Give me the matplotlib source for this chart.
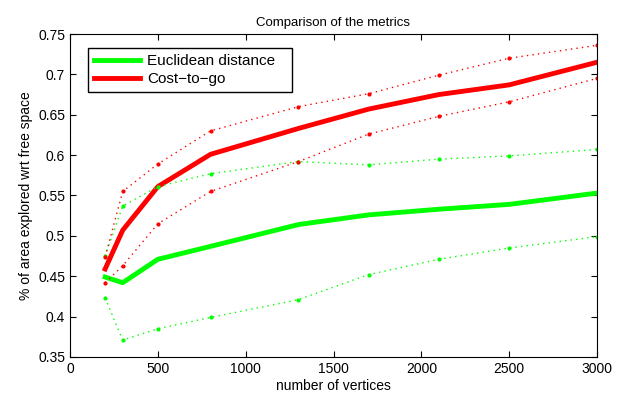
import numpy as np
import matplotlib.pyplot as plt

plt.rcParams['font.family'] = ['Liberation Sans', 'DejaVu Sans']

# number of vertices
vertices = [200, 300, 500, 800, 1300, 1700, 2100, 2500, 3000]

# euclidean distance: mean and spread
eucl_mean = [0.449, 0.442, 0.471, 0.487, 0.514, 0.526, 0.533, 0.539, 0.553]
eucl_upper = [0.475, 0.537, 0.561, 0.577, 0.592, 0.588, 0.595, 0.599, 0.607]
eucl_lower = [0.423, 0.371, 0.385, 0.399, 0.421, 0.452, 0.471, 0.485, 0.499]

# cost-to-go: mean and spread
ctg_mean = [0.459, 0.507, 0.561, 0.601, 0.633, 0.657, 0.675, 0.687, 0.715]
ctg_upper = [0.474, 0.555, 0.589, 0.630, 0.660, 0.676, 0.699, 0.720, 0.736]
ctg_lower = [0.442, 0.463, 0.515, 0.555, 0.592, 0.626, 0.648, 0.666, 0.695]

green = (0, 1, 0)
red = (1, 0, 0)

fig = plt.figure(figsize=(6.21, 3.94), dpi=100)
ax = fig.add_axes([70 / 621, 1 - 357 / 394, 527 / 621, 323 / 394])

ax.plot(vertices, eucl_mean, color=green, lw=3.5, label='Euclidean distance')
ax.plot(vertices, ctg_mean, color=red, lw=3.5, label='Cost\u2212to\u2212go')

for ys, c in [(eucl_upper, green), (eucl_lower, green),
              (ctg_upper, red), (ctg_lower, red)]:
    ax.plot(vertices, ys, color=c, lw=1.0, ls=(0, (1, 3)),
            marker='.', ms=4)

ax.set_xlim(0, 3000)
ax.set_ylim(0.35, 0.75)
ax.set_xticks([0, 500, 1000, 1500, 2000, 2500, 3000])
ax.set_yticks([0.35, 0.4, 0.45, 0.5, 0.55, 0.6, 0.65, 0.7, 0.75])
ax.set_yticklabels(['0.35', '0.4', '0.45', '0.5', '0.55', '0.6', '0.65', '0.7', '0.75'])
ax.tick_params(direction='in', top=True, right=True, labelsize=10, length=4)

ax.set_xlabel('number of vertices', fontsize=10, labelpad=2)
ax.set_ylabel('% of area explored wrt free space', fontsize=10)
ax.set_title('Comparison of the metrics', fontsize=9.5, pad=6)

# legend box stretched to the width seen in the reference
leg = ax.legend(loc='upper left',
                bbox_to_anchor=(18 / 527, 0, 204 / 527, 1 - 14 / 323),
                mode='expand', borderaxespad=0, fontsize=11,
                fancybox=False, framealpha=1, edgecolor='black',
                handlelength=3.0, handletextpad=0.45, borderpad=0.4,
                labelspacing=0.25)
leg.get_frame().set_linewidth(1.0)

fig.savefig('out.png', dpi=100)
